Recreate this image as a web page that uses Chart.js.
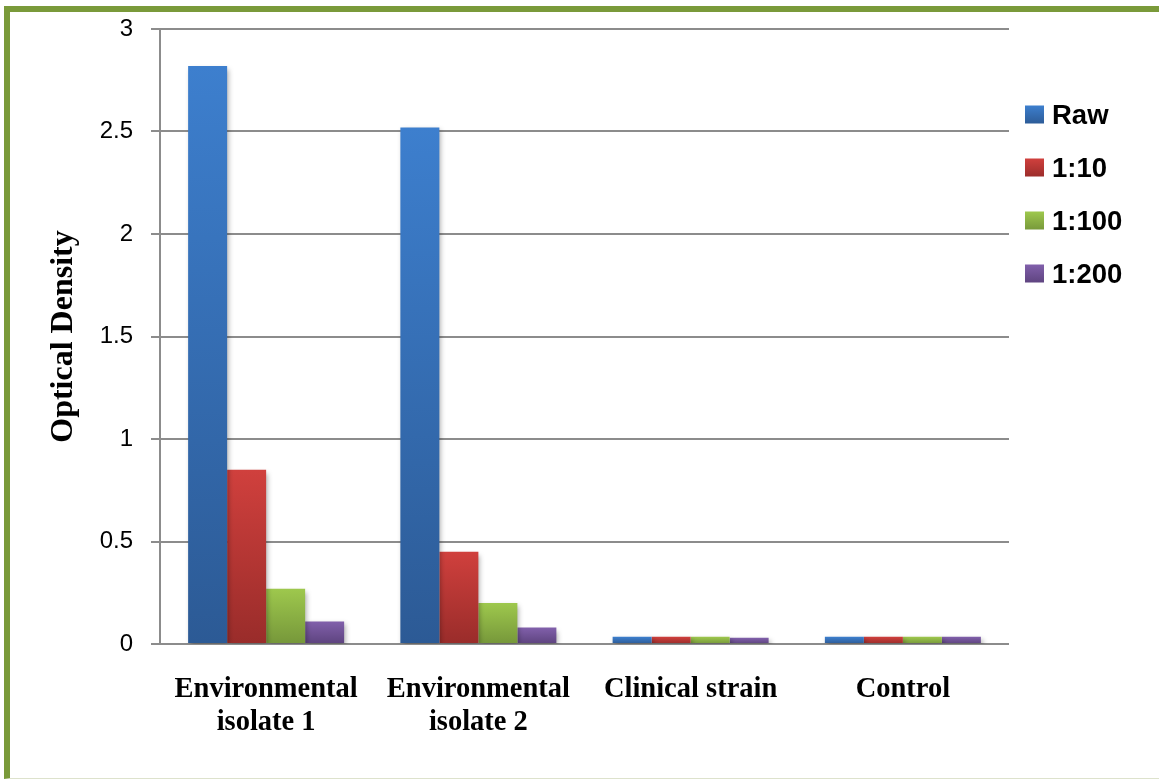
<!DOCTYPE html>
<html>
<head>
<meta charset="utf-8">
<script src="https://cdn.jsdelivr.net/npm/chart.js@4/dist/chart.umd.min.js"></script>
<style>
  html, body { margin: 0; padding: 0; background: #ffffff; }
  body { width: 1159px; height: 780px; position: relative; overflow: hidden; }
  #frame {
    position: absolute; left: 4px; top: 6px; width: 1200px; height: 766px;
    border-left: 6px solid #7a9a3a; border-top: 6px solid #7a9a3a;
    border-bottom: 1px solid #dde2cc;
  }
  #wrap { position: absolute; left: 0; top: 0; width: 1159px; height: 780px; }
</style>
</head>
<body>
<div id="frame"></div>
<div id="wrap"><canvas id="chart" width="1159" height="780"></canvas></div>
<script>
// Optical density per sample at each dilution
const categories = [['Environmental', 'isolate 1'], ['Environmental', 'isolate 2'], 'Clinical strain', 'Control'];
const seriesNames = ['Raw', '1:10', '1:100', '1:200'];
const rawValues   = [2.82, 2.52, 0.035, 0.035];
const d10Values   = [0.85, 0.45, 0.035, 0.035];
const d100Values  = [0.27, 0.20, 0.035, 0.035];
const d200Values  = [0.11, 0.08, 0.03, 0.035];
const yTicks = [0, 0.5, 1, 1.5, 2, 2.5, 3];

// light (top) and dark (bottom) shade for each series
const shades = [
  ['#3d7fce', '#2c5a95'],
  ['#d0403d', '#992c2a'],
  ['#9ec84d', '#76973a'],
  ['#8160ab', '#5d437e']
];

function barGradient(i) {
  return (ctx) => {
    const chart = ctx.chart;
    const y = chart.scales.y;
    if (!chart.chartArea || !y || ctx.raw == null) return shades[i][0];
    const top = y.getPixelForValue(ctx.raw);
    const base = y.getPixelForValue(0);
    const g = chart.ctx.createLinearGradient(0, top, 0, base);
    g.addColorStop(0, shades[i][0]);
    g.addColorStop(1, shades[i][1]);
    return g;
  };
}

const allValues = [rawValues, d10Values, d100Values, d200Values];

const barShadow = {
  id: 'barShadow',
  beforeDatasetsDraw(chart) {
    const c = chart.ctx;
    c.save();
    c.shadowColor = 'rgba(0,0,0,0.32)';
    c.shadowBlur = 5;
    c.shadowOffsetX = 2;
    c.shadowOffsetY = 3;
  },
  afterDatasetsDraw(chart) { chart.ctx.restore(); }
};

// legend on the right, built from the dataset labels and shades
const sideLegend = {
  id: 'sideLegend',
  afterDraw(chart) {
    const c = chart.ctx;
    const x0 = chart.chartArea.right + 16;
    const y0 = 115, step = 53, box = 19;
    c.save();
    chart.data.datasets.forEach((ds, i) => {
      const cy = y0 + i * step;
      const g = c.createLinearGradient(0, cy - box / 2, 0, cy + box / 2);
      g.addColorStop(0, shades[i][0]);
      g.addColorStop(1, shades[i][1]);
      c.fillStyle = g;
      c.fillRect(x0, cy - box / 2, box, box - 1);
      c.fillStyle = '#000000';
      c.font = 'bold 27.5px "Liberation Sans", Arial, sans-serif';
      c.textBaseline = 'middle';
      c.textAlign = 'left';
      c.fillText(ds.label, x0 + 27, cy + 1);
    });
    c.restore();
  }
};

new Chart(document.getElementById('chart'), {
  type: 'bar',
  data: {
    labels: categories,
    datasets: seriesNames.map((name, i) => ({
      label: name,
      data: allValues[i],
      backgroundColor: barGradient(i),
      borderWidth: 0,
      barPercentage: 1.0,
      categoryPercentage: 0.735
    }))
  },
  options: {
    responsive: false,
    animation: false,
    layout: { padding: { left: 0, top: 29, right: 150, bottom: 0 } },
    plugins: {
      legend: { display: false },
      tooltip: { enabled: false }
    },
    scales: {
      x: {
        grid: { display: false, drawTicks: false },
        border: { display: false },
        ticks: {
          color: '#000000',
          padding: 29,
          maxRotation: 0,
          autoSkip: false,
          font: { family: '"Liberation Serif", "Times New Roman", serif', size: 28.5, weight: 'bold', lineHeight: 1.16 }
        },
        afterFit(scale) { scale.height = 136; }
      },
      y: {
        min: 0,
        max: 3,
        afterBuildTicks(scale) { scale.ticks = yTicks.map(v => ({ value: v })); },
        grid: { color: '#8c8c8c', lineWidth: 2, tickLength: 9 },
        border: { display: true, color: '#8c8c8c', width: 2 },
        ticks: {
          color: '#000000',
          padding: 18,
          callback: (v) => String(v),
          font: { family: '"Liberation Sans", Arial, sans-serif', size: 24 }
        },
        title: {
          display: true,
          text: 'Optical Density',
          color: '#000000',
          padding: { top: 45, bottom: 0 },
          font: { family: '"Liberation Serif", "Times New Roman", serif', size: 32, weight: 'bold', lineHeight: 1.2 }
        },
        afterFit(scale) {
          scale.width = 160;
          scale.paddingTop = 0;
          scale.paddingBottom = 0;
        }
      }
    }
  },
  plugins: [barShadow, sideLegend]
});
</script>
</body>
</html>
